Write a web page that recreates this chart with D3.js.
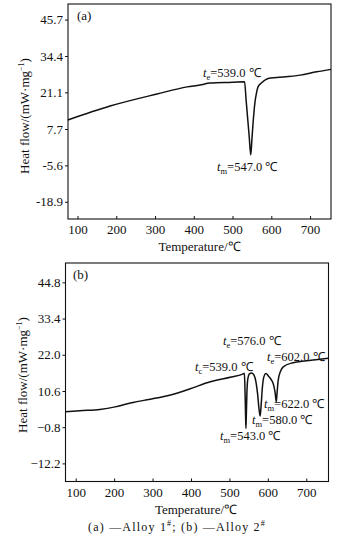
<!DOCTYPE html>
<html>
<head>
<meta charset="utf-8">
<script src="https://cdn.jsdelivr.net/npm/d3@7"></script>
<style>
  body { margin: 0; background: #fff; }
  text { font-family: "Liberation Serif", "Times New Roman", serif; fill: #111; }
</style>
</head>
<body>
<svg id="chart" width="347" height="546"></svg>
<script>
// DSC heating curves of the two alloys
const xTickValues = [100, 200, 300, 400, 500, 600, 700];

// Panel (a): Alloy 1#
const yTickPosA = [47.7, 34.4, 21.1, 7.7, -5.6, -18.9];
const yTickTextA = ["45.7", "34.4", "21.1", "7.7", "-5.6", "-18.9"];
const tempA = [75, 184, 305, 383, 416, 442, 500, 531, 535, 539, 543, 547, 550, 553, 557.5, 561.7, 566, 575, 592, 614, 674, 717, 754];
const flowA = [11.0, 16.1, 20.5, 23.1, 23.8, 24.5, 24.8, 25.0, 18.3, 11.6, 4.9, -1.8, 4, 10, 17.1, 20.8, 23.2, 24.6, 26.2, 26.5, 27.4, 28.6, 29.5];

// Panel (b): Alloy 2#
const yTicksB = [44.8, 33.4, 22.0, 10.6, -0.8, -12.2];
const yTickTextB = ["44.8", "33.4", "22.0", "10.6", "\u22120.8", "\u221212.2"];
const tempB = [73, 111, 163, 203, 249, 294, 354, 398, 450, 505, 536, 539, 540.5, 542, 543, 544, 545.5, 548, 552, 558, 564, 569, 573, 577, 580, 583, 586, 590, 595, 602, 608, 612, 616, 619, 622, 624, 627, 633, 640, 665, 700, 730, 758];
const flowB = [4.05, 4.4, 4.8, 5.6, 7.0, 8.0, 9.6, 11.3, 13.5, 15.0, 16.0, 16.2, 11, 3, -1.2, 3, 10, 14.5, 16.0, 16.3, 15.6, 13.5, 10, 5, 2.7, 7, 12, 15.2, 16.1, 15.2, 14.3, 13.5, 12.0, 10, 7.2, 10, 14, 16.8, 18.2, 19.5, 20.1, 20.5, 20.9];

// Peak annotations (onset t_e / t_c and peak t_m), placed in pixels
const labelsA = [
  { sub: "e", text: "=539.0 \u2103", x: 203, y: 77 },
  { sub: "m", text: "=547.0 \u2103", x: 217, y: 171 }
];
const labelsB = [
  { sub: "e", text: "=576.0 \u2103", x: 223, y: 345 },
  { sub: "e", text: "=602.0 \u2103", x: 267, y: 361 },
  { sub: "c", text: "=539.0 \u2103", x: 195, y: 371 },
  { sub: "m", text: "=622.0 \u2103", x: 264, y: 408 },
  { sub: "m", text: "=580.0 \u2103", x: 252, y: 424 },
  { sub: "m", text: "=543.0 \u2103", x: 220, y: 440 }
];

const svg = d3.select("#chart");

function panel(cfg) {
  const x = d3.scaleLinear().domain(cfg.xDomain).range([cfg.left, cfg.right]);
  const y = d3.scaleLinear().domain(cfg.yDomain).range([cfg.bottom, cfg.top]);
  const g = svg.append("g");

  // frame
  g.append("rect")
    .attr("x", cfg.left).attr("y", cfg.top)
    .attr("width", cfg.right - cfg.left).attr("height", cfg.bottom - cfg.top)
    .attr("fill", "none").attr("stroke", "#111").attr("stroke-width", 1.1);

  // x axis, ticks pointing inward
  const xAxis = d3.axisBottom(x).tickValues(xTickValues).tickSize(-3).tickPadding(6).tickFormat(d3.format("d"));
  const gx = g.append("g").attr("transform", `translate(0,${cfg.bottom})`).call(xAxis);
  gx.select(".domain").remove();
  gx.selectAll("line").attr("stroke", "#111");
  gx.selectAll("text").attr("font-size", 13).attr("font-family", "Liberation Serif").attr("fill", "#111");

  // y axis, ticks pointing outward
  const yAxis = d3.axisLeft(y).tickValues(cfg.yTicks).tickSize(3).tickPadding(2)
    .tickFormat((d, i) => cfg.yText[i]);
  const gy = g.append("g").attr("transform", `translate(${cfg.left},0)`).call(yAxis);
  gy.select(".domain").remove();
  gy.selectAll("line").attr("stroke", "#111");
  gy.selectAll("text").attr("font-size", 13).attr("font-family", "Liberation Serif").attr("fill", "#111");

  // curve
  const pts = cfg.temp.map((t, i) => [t, cfg.flow[i]]);
  g.append("path")
    .datum(pts)
    .attr("fill", "none")
    .attr("stroke", "#111")
    .attr("stroke-width", 1.5)
    .attr("stroke-linejoin", "round")
    .attr("d", d3.line().x(d => x(d[0])).y(d => y(d[1])).curve(d3.curveMonotoneX));

  // panel tag
  g.append("text").attr("x", cfg.tagX).attr("y", cfg.tagY).attr("font-size", 13).text(cfg.tag);

  // axis titles
  g.append("text")
    .attr("x", (cfg.left + cfg.right) / 2 + cfg.xTitleShift).attr("y", cfg.bottom + 32)
    .attr("text-anchor", "middle").attr("font-size", 13)
    .text("Temperature/\u2103");

  const yl = g.append("text")
    .attr("transform", `translate(${cfg.yTitleX},${cfg.yTitleY}) rotate(-90)`)
    .attr("text-anchor", "middle").attr("font-size", 13);
  yl.append("tspan").text("Heat flow/(mW\u00b7mg");
  yl.append("tspan").attr("font-size", 8).attr("dy", -5).text("\u22121");
  yl.append("tspan").attr("dy", 5).text(")");

  // annotations
  cfg.labels.forEach(l => {
    const t = g.append("text").attr("x", l.x).attr("y", l.y).attr("font-size", 12.5);
    t.append("tspan").attr("font-style", "italic").text("t");
    t.append("tspan").attr("font-size", 8.5).attr("dy", 2.5).text(l.sub);
    t.append("tspan").attr("dy", -2.5).text(l.text);
  });
}

panel({
  left: 68, right: 331, top: 4, bottom: 219,
  xDomain: [75.5, 754], yDomain: [-25.2, 53.4],
  yTicks: yTickPosA, yText: yTickTextA,
  temp: tempA, flow: flowA,
  tag: "(a)", tagX: 77, tagY: 20,
  xTitleShift: 0, yTitleX: 29, yTitleY: 116,
  labels: labelsA
});

panel({
  left: 65.5, right: 328.5, top: 263, bottom: 481.5,
  xDomain: [73.5, 757.8], yDomain: [-17.9, 50.9],
  yTicks: yTicksB, yText: yTickTextB,
  temp: tempB, flow: flowB,
  tag: "(b)", tagX: 73, tagY: 279,
  xTitleShift: -1, yTitleX: 27, yTitleY: 375,
  labels: labelsB
});

// figure caption
const cap = svg.append("text").attr("x", 177).attr("y", 531)
  .attr("text-anchor", "middle").attr("font-size", 12).attr("letter-spacing", 1.2);
cap.append("tspan").text("(a) \u2014Alloy 1");
cap.append("tspan").attr("font-size", 8).attr("dy", -5).text("#");
cap.append("tspan").attr("dy", 5).text("; (b) \u2014Alloy 2");
cap.append("tspan").attr("font-size", 8).attr("dy", -5).text("#");
</script>
</body>
</html>
